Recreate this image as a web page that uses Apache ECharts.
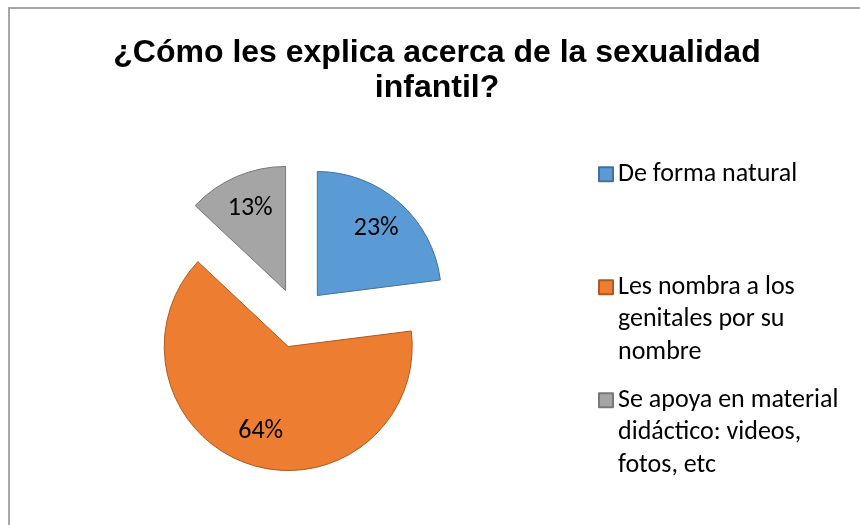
<!DOCTYPE html>
<html>
<head>
<meta charset="utf-8">
<script src="https://cdn.jsdelivr.net/npm/echarts@6/dist/echarts.min.js"></script>
<style>
  html, body { margin: 0; padding: 0; background: #fff; }
  #grafico { position: absolute; left: 0; top: 0; width: 860px; height: 525px; }
  #marco { position: absolute; left: 8px; top: 7px; width: 900px; height: 600px;
           border-left: 2px solid #a6a6a6; border-top: 2px solid #a6a6a6; pointer-events: none; }
</style>
</head>
<body>
<div id="grafico"></div>
<div id="marco"></div>
<script>
// datos del grafico
var categorias = ['De forma natural', 'Les nombra a los genitales por su nombre', 'Se apoya en material didáctico: videos, fotos, etc'];
var etiquetasLeyenda = ['De forma natural', 'Les nombra a los\ngenitales por su\nnombre', 'Se apoya en material\ndidáctico: videos,\nfotos, etc'];
var porcentajes = [23, 64, 13];
var colores = ['#5B9BD5', '#ED7D31', '#A5A5A5'];
var bordes = ['#41719C', '#AE5A21', '#787878'];

var myChart = echarts.init(document.getElementById('grafico'));

var fuente = 'Calibri, Carlito, Lato, sans-serif';
var altoLinea = 32.5;
var topesLeyenda = [158, 206, 319];

var datos = categorias.map(function (c, i) {
	return {
		name: c,
		value: porcentajes[i],
		selected: true,
		itemStyle: { color: colores[i], borderColor: bordes[i], borderWidth: 1 }
	};
});

// datos transparentes solo para poner las etiquetas mas afuera
var datosEtiquetas = categorias.map(function (c, i) {
	return { name: c, value: porcentajes[i], selected: true };
});

var leyendas = categorias.map(function (c, i) {
	return {
		data: [c],
		orient: 'vertical',
		left: 598,
		top: topesLeyenda[i],
		padding: 0,
		selectedMode: false,
		icon: 'rect',
		itemWidth: 14,
		itemHeight: 14,
		itemGap: 0,
		textStyle: { fontFamily: fuente, fontSize: 26, color: '#000', lineHeight: altoLinea },
		formatter: function (name) {
			var t = etiquetasLeyenda[categorias.indexOf(name)];
			var n = t.split('\n').length - 1;
			return new Array(n + 1).join('\n') + t;
		}
	};
});

option = {
	backgroundColor: '#fff',
	title: {
		text: '¿Cómo les explica acerca de la sexualidad\ninfantil?',
		left: 432,
		top: 31,
		textAlign: 'center',
		textStyle: {
			fontFamily: 'Arial, "Liberation Sans", sans-serif',
			fontWeight: 'bold',
			fontSize: 32,
			lineHeight: 35,
			color: '#000'
		}
	},
	legend: leyendas,
	series: [{
			name: 'pastel',
			type: 'pie',
			center: [297.5, 318],
			radius: 124,
			startAngle: 90,
			selectedMode: 'multiple',
			selectedOffset: 30,
			silent: true,
			label: { show: false },
			labelLine: { show: false },
			data: datos
		},
		{
			name: 'etiquetas',
			type: 'pie',
			center: [297.5, 318],
			radius: [48, 124],
			startAngle: 90,
			selectedMode: 'multiple',
			selectedOffset: 30,
			silent: true,
			itemStyle: { color: 'transparent', borderWidth: 0 },
			label: {
				show: true,
				position: 'inside',
				formatter: '{c}%',
				fontFamily: fuente,
				fontSize: 26,
				color: '#000'
			},
			labelLine: { show: false },
			data: datosEtiquetas
		}
	]
};

myChart.setOption(option);
</script>
</body>
</html>
